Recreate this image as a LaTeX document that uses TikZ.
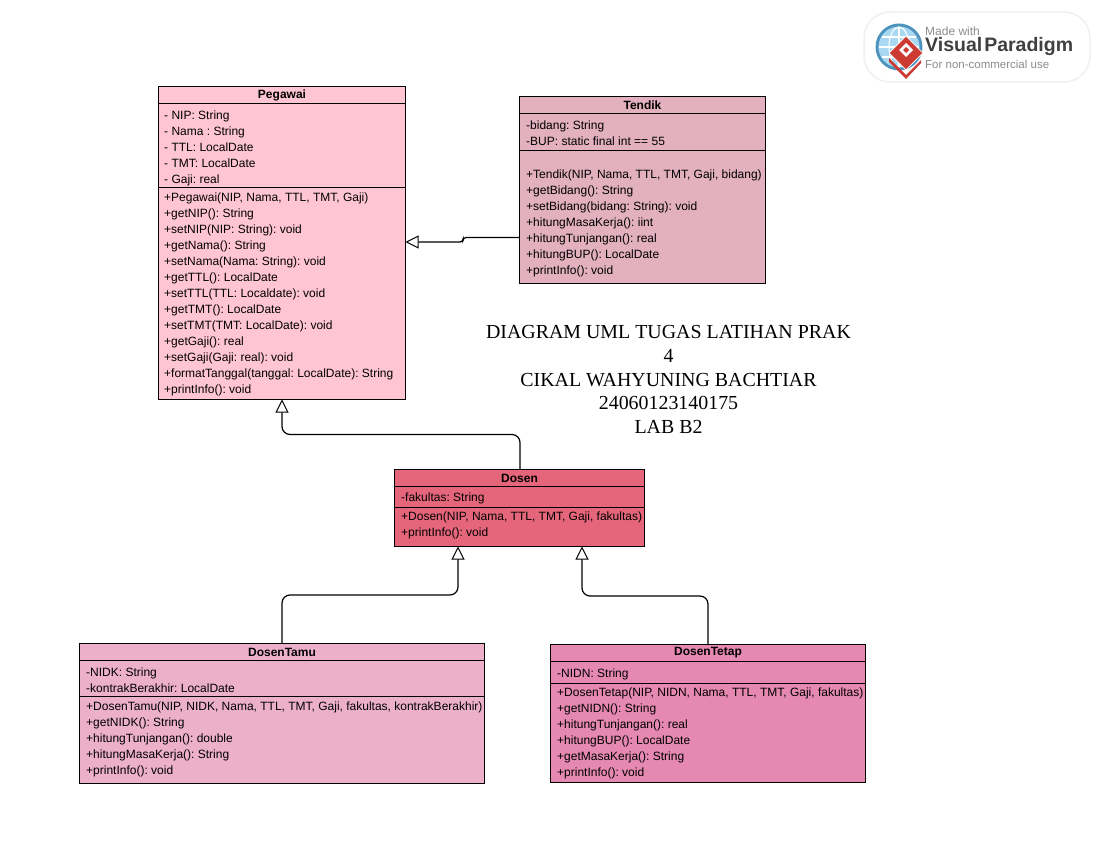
\documentclass[tikz,border=0pt]{standalone}
\usepackage{fontspec}
\setmainfont{Liberation Sans}
\newfontfamily\serifface{Liberation Serif}
\usetikzlibrary{arrows.meta,shapes.geometric}
\definecolor{cPeg}{HTML}{FFC5D3}
\definecolor{cTen}{HTML}{E2B0BE}
\definecolor{cDos}{HTML}{E5667B}
\definecolor{cTam}{HTML}{EDB0C9}
\definecolor{cTet}{HTML}{E588B2}
\definecolor{cGlobe}{HTML}{4E93BE}
\definecolor{cGlobeIn}{HTML}{A9D8F2}
\definecolor{cMark}{HTML}{CC3A32}
\tikzset{
  x=1pt,y=-1pt,
  classbox/.style={draw=black,line width=0.9pt,inner sep=0pt,outer sep=0pt,anchor=north west},
  classtitle/.style={font=\fontsize{12}{14}\selectfont\bfseries,inner sep=0pt,anchor=center},
  members/.style={font=\fontsize{12}{16}\selectfont\frenchspacing,align=left,inner sep=0pt,anchor=north west,text depth=0pt},
  divider/.style={draw=black,line width=0.9pt},
  gener/.style={draw=black,line width=1.2pt,rounded corners=8pt,-{Triangle[open,fill=white,length=13pt,width=13pt,line width=1pt]}},
  heading/.style={font=\fontsize{19.9}{23.8}\selectfont\serifface,align=center,inner sep=0pt},
}
\newcommand{\umlclass}[7]{% name, x, y, w, h, colour, title
  \node[classbox,fill=#6,minimum width=#4pt,minimum height=#5pt] (#1) at (#2,#3) {};
  \node[classtitle] (#1t) at ([yshift=-8.5pt]#1.north) {#7};
}
\begin{document}
\begin{tikzpicture}
\useasboundingbox (0,0) rectangle (1100,850);
\fill[white] (0,0) rectangle (1100,850);

% Pegawai
\umlclass{peg}{158.5}{86.5}{247}{313}{cPeg}{Pegawai}
\draw[divider] (158.5,103) -- (405.5,103);
\draw[divider] (158.5,187.5) -- (405.5,187.5);
\node[members] (pega) at (164,110.5) {- NIP: String\\- Nama : String\\- TTL: LocalDate\\- TMT: LocalDate\\- Gaji: real};
\node[members] (pegm) at (164,192.5) {+Pegawai(NIP, Nama, TTL, TMT, Gaji)\\+getNIP(): String\\+setNIP(NIP: String): void\\+getNama(): String\\+setNama(Nama: String): void\\+getTTL(): LocalDate\\+setTTL(TTL: Localdate): void\\+getTMT(): LocalDate\\+setTMT(TMT: LocalDate): void\\+getGaji(): real\\+setGaji(Gaji: real): void\\+formatTanggal(tanggal: LocalDate): String\\+printInfo(): void};

% Tendik
\umlclass{ten}{519.5}{96.5}{246}{187}{cTen}{Tendik}
\draw[divider] (519.5,113) -- (765.5,113);
\draw[divider] (519.5,150.5) -- (765.5,150.5);
\node[members] (tena) at (526,120.5) {-bidang: String\\-BUP: static final int == 55};
\node[members] (tenm) at (526,169.5) {+Tendik(NIP, Nama, TTL, TMT, Gaji, bidang)\\+getBidang(): String\\+setBidang(bidang: String): void\\+hitungMasaKerja(): iint\\+hitungTunjangan(): real\\+hitungBUP(): LocalDate\\+printInfo(): void};

% Dosen
\umlclass{dos}{394.5}{469.5}{250}{77}{cDos}{Dosen}
\draw[divider] (394.5,486.5) -- (644.5,486.5);
\draw[divider] (394.5,507.5) -- (644.5,507.5);
\node[members] (dosa) at (401,493) {-fakultas: String};
\node[members] (dosm) at (401,511.5) {+Dosen(NIP, Nama, TTL, TMT, Gaji, fakultas)\\+printInfo(): void};

% DosenTamu
\umlclass{tam}{79.5}{643.5}{405}{139.5}{cTam}{DosenTamu}
\draw[divider] (79.5,660.5) -- (484.5,660.5);
\draw[divider] (79.5,696.5) -- (484.5,696.5);
\node[members] (tama) at (86,667.5) {-NIDK: String\\-kontrakBerakhir: LocalDate};
\node[members] (tamm) at (86,701.5) {+DosenTamu(NIP, NIDK, Nama, TTL, TMT, Gaji, fakultas, kontrakBerakhir)\\+getNIDK(): String\\+hitungTunjangan(): double\\+hitungMasaKerja(): String\\+printInfo(): void};

% DosenTetap
\umlclass{tet}{550.5}{644.5}{315}{137.5}{cTet}{DosenTetap}
\draw[divider] (550.5,661.5) -- (865.5,661.5);
\draw[divider] (550.5,683.5) -- (865.5,683.5);
\node[members] (teta) at (557,668.5) {-NIDN: String};
\node[members] (tetm) at (557,687.5) {+DosenTetap(NIP, NIDN, Nama, TTL, TMT, Gaji, fakultas)\\+getNIDN(): String\\+hitungTunjangan(): real\\+hitungBUP(): LocalDate\\+getMasaKerja(): String\\+printInfo(): void};

% Connectors
\coordinate (pegR) at (405.5,242);
\coordinate (tenL) at (519.5,237.5);
\draw[gener,rounded corners=3pt] (tenL) -- (463,237.5) -- (463,242) -- (pegR);
\coordinate (pegB) at (282,399.5);
\coordinate (dosT) at (520,469.5);
\draw[gener] (dosT) -- (520,434.5) -- (282,434.5) -- (pegB);
\coordinate (dosB1) at (458,546.5);
\coordinate (tamT) at (282,643.5);
\draw[gener] (tamT) -- (282,595) -- (458,595) -- (dosB1);
\coordinate (dosB2) at (582,546.5);
\coordinate (tetT) at (708,644.5);
\draw[gener] (tetT) -- (708,596) -- (582,596) -- (dosB2);

% Heading
\node[heading] (head) at (668.5,379.5) {DIAGRAM UML TUGAS LATIHAN PRAK\\4\\CIKAL WAHYUNING BACHTIAR\\24060123140175\\LAB B2};

% Watermark badge
\node[draw=black!6,line width=1.5pt,fill=white,rounded corners=26pt,minimum width=226pt,minimum height=70pt] (badge) at (977,47) {};
\fill[cGlobe] (899,47) circle (23.5);
\fill[cGlobeIn] (899,47) circle (20.5);
\draw[white,line width=1.1pt] (899,27) -- (899,67) (879,47) -- (919,47) (882,37) -- (916,37) (882,57) -- (916,57);
\draw[white,line width=1.1pt] (899,47) ellipse (10 and 20);
\fill[cMark] (889,58) -- (906,75) -- (921,60) -- (921,63) -- (906,79) -- (889,62) -- cycle;
\node[diamond,fill=cMark,draw=white,line width=0.8pt,minimum size=34pt,inner sep=0pt] (vpmark) at (906,53) {};
\fill[white] (899,50) -- (906,43) -- (913,50) -- (906,57) -- cycle;
\fill[cMark] (903,50) -- (906,47) -- (909,50) -- (906,53) -- cycle;
\node[font=\fontsize{12}{14}\selectfont,text=black!45,anchor=west,inner sep=0pt] (vp1) at (925,31) {Made with};
\node[font=\fontsize{19.5}{22}\selectfont\bfseries,text=black!75,anchor=west,inner sep=0pt] (vp2) at (925,47) {Visual\kern2pt Paradigm};
\node[font=\fontsize{11.5}{14}\selectfont,text=black!45,anchor=west,inner sep=0pt] (vp3) at (925,64) {For non-commercial use};
\end{tikzpicture}
\end{document}
